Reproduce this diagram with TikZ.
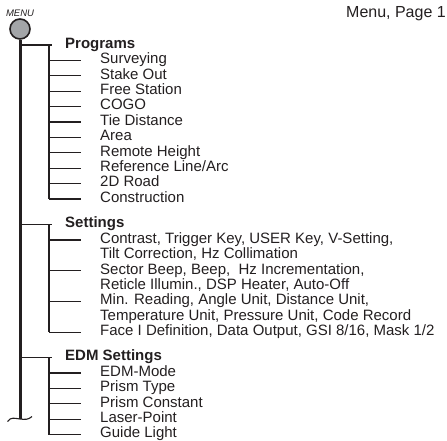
\documentclass[tikz,border=0pt]{standalone}
\usepackage{fontspec}
\setmainfont{Liberation Sans}
\usetikzlibrary{positioning,calc}
\definecolor{ink}{HTML}{231F20}
\definecolor{knobgray}{HTML}{A3A5A8}
\tikzset{
  item/.style={anchor=base west,inner sep=0pt,text=ink,align=left,
               font=\fontsize{15}{15.4}\selectfont},
  head/.style={item,font=\fontsize{15}{15.4}\selectfont\bfseries},
  trunk/.style={draw=ink,line width=3pt},
  twig/.style={draw=ink,line width=1.1pt},
  knob/.style={circle,draw=ink,fill=knobgray,line width=1.6pt,minimum size=20pt,inner sep=0pt},
}

\begin{document}
\begin{tikzpicture}[x=1pt,y=-1pt]
\useasboundingbox (0,0) rectangle (447,440);
\node[knob] (knob) at (20,29) {};
\node[above=1.5pt of knob,inner sep=0pt,text=ink,font=\fontsize{9.5}{10}\selectfont\itshape] (menu) {MENU};
\node[anchor=base east,inner sep=0pt,text=ink,font=\fontsize{16}{16}\selectfont] (page) at (446,17) {Menu, Page 1};
% Programs
\node[head] (prog) at (65,48.3) {Programs};
\node[item] (surv) at (100,63.7) {Surveying};
\node[item] (stake) at (100,79.1) {Stake Out};
\node[item] (free) at (100,94.5) {Free Station};
\node[item] (cogo) at (100,109.9) {COGO};
\node[item] (tie) at (100,125.3) {Tie Distance};
\node[item] (area) at (100,140.7) {Area};
\node[item] (remote) at (100,156.1) {Remote Height};
\node[item] (refline) at (100,171.5) {Reference Line/Arc};
\node[item] (road) at (100,186.9) {2D Road};
\node[item] (constr) at (100,202.3) {Construction};
% Settings (two-line items sit on their last baseline)
\node[head] (sett) at (65,227.3) {Settings};
\node[item] (contrast) at (100,258.7) {Contrast, Trigger Key, USER Key, V-Setting,\\Tilt Correction, Hz Collimation};
\node[item] (sector) at (100,289.5) {Sector Beep, Beep,\ \ Hz Incrementation,\\Reticle Illumin., DSP Heater, Auto-Off};
\node[item] (minread) at (100,320.3) {Min. Reading, Angle Unit, Distance Unit,\\Temperature Unit, Pressure Unit, Code Record};
\node[item] (face) at (100,335.7) {Face I Definition, Data Output, GSI 8/16, Mask 1/2};
% EDM Settings
\node[head] (edm) at (65,360.9) {EDM Settings};
\node[item] (edmmode) at (100,376.3) {EDM-Mode};
\node[item] (ptype) at (100,391.7) {Prism Type};
\node[item] (pconst) at (100,407.1) {Prism Constant};
\node[item] (laser) at (100,422.5) {Laser-Point};
\node[item] (guide) at (100,437.9) {Guide Light};
% tree
\coordinate (jprog) at (49,45);
\coordinate (jsett) at (49,224.5);
\coordinate (jedm) at (49,357.5);
\coordinate (wave) at (20,419);
\draw[trunk] (knob.south) -- (wave);
\draw[twig] (7.5,421.5) .. controls (11,416.5) and (15,418.5) .. (wave) .. controls (25,419.5) and (28,420) .. (32,416.5);
\foreach \j in {jprog,jsett,jedm}
  \draw[twig] (knob|-\j) -- ([xshift=3pt]\j);
\draw[twig] (jprog) -- ([yshift=3.3pt]jprog|-constr.base);
\draw[twig] (jsett) -- ([yshift=3.3pt]jsett|-face.base);
\draw[twig] (jedm) -- ([yshift=3.3pt]jedm|-guide.base);
\foreach \n in {surv,stake,free,cogo,tie,area,remote,refline,road,constr}
  \draw[twig] ([yshift=3.3pt]jprog|-\n.base) -- ++(32,0);
\foreach \n/\s in {contrast/18.7,sector/18.7,minread/18.7,face/3.3}
  \draw[twig] ([yshift=\s pt]jsett|-\n.base) -- ++(32,0);
\foreach \n in {edmmode,ptype,pconst,laser,guide}
  \draw[twig] ([yshift=3.3pt]jedm|-\n.base) -- ++(32,0);
\end{tikzpicture}
\end{document}
